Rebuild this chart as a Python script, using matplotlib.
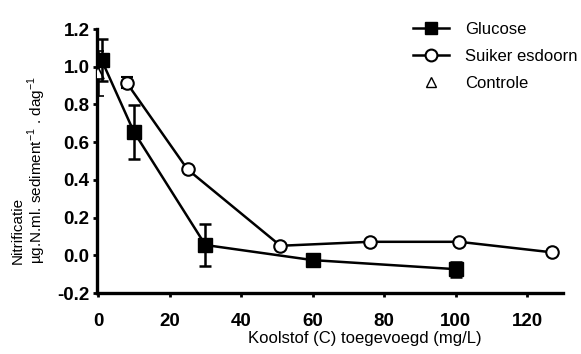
import matplotlib
matplotlib.use("Agg")
import matplotlib.pyplot as plt
from matplotlib.lines import Line2D

plt.rcParams['font.family'] = ['Liberation Sans', 'DejaVu Sans']

# Glucose
glu_x = [1, 10, 30, 60, 100]
glu_y = [1.035, 0.655, 0.055, -0.025, -0.073]
glu_err = [0.11, 0.143, 0.11, 0.0, 0.04]

# Suiker esdoorn
sui_x = [8, 25, 51, 76, 101, 127]
sui_y = [0.915, 0.456, 0.051, 0.072, 0.072, 0.016]
sui_err = [0.03, 0.0, 0.0, 0.0, 0.0, 0.0]

# Controle
con_x = [0]
con_y = [0.965]
con_err = [0.12]

xticks = [0, 20, 40, 60, 80, 100, 120]
yticks = [-0.2, 0.0, 0.2, 0.4, 0.6, 0.8, 1.0, 1.2]

fig = plt.figure(figsize=(5.81, 3.54), dpi=100)
ax = fig.add_axes([0.167, 0.172, 0.802, 0.746])

ax.errorbar(con_x, con_y, yerr=con_err, fmt='^', color='black', mfc='white',
            mec='black', ms=9, mew=1.2, capsize=4, elinewidth=1.8, capthick=1.8,
            zorder=3)
ax.errorbar(sui_x, sui_y, yerr=sui_err, fmt='-o', color='black', mfc='white',
            mec='black', ms=9, mew=1.5, lw=1.8, capsize=4, elinewidth=1.8,
            capthick=1.8, zorder=4)
ax.errorbar(glu_x, glu_y, yerr=glu_err, fmt='-s', color='black', ms=9.5, lw=1.8,
            capsize=4, elinewidth=1.8, capthick=1.8, zorder=5)

ax.set_xlim(-0.3, 130)
ax.set_ylim(-0.2, 1.2)
ax.set_xticks(xticks)
ax.set_yticks(yticks)
ax.set_yticklabels(['%.1f' % v for v in yticks])
ax.tick_params(direction='out', width=2, length=3, labelsize=13.5)
ax.tick_params(axis='x', pad=11)
ax.tick_params(axis='y', pad=2.5)
for lab in ax.get_xticklabels() + ax.get_yticklabels():
    lab.set_fontweight('bold')
for s in ['top', 'right']:
    ax.spines[s].set_visible(False)
for s in ['left', 'bottom']:
    ax.spines[s].set_linewidth(2.4)

ax.set_xlabel('Koolstof (C) toegevoegd (mg/L)', fontsize=12)
ax.xaxis.set_label_coords(0.575, -0.145)
ax.set_ylabel('Nitrificatie\nµg.N.ml. sediment$^{\\mathregular{-1}}$ . dag$^{\\mathregular{-1}}$',
              fontsize=11, linespacing=1.05, multialignment='left')
ax.yaxis.set_label_coords(-0.105, 0.466)

handles = [
    Line2D([], [], color='black', marker='s', ms=8.5, lw=1.8),
    Line2D([], [], color='black', marker='o', mfc='white', ms=8.5, mew=1.5, lw=1.8),
    Line2D([], [], color='black', marker='^', mfc='white', ms=7, mew=1.0, lw=0),
]
labels = ['Glucose', 'Suiker esdoorn', 'Controle']
fig.legend(handles, labels, loc='upper left', bbox_to_anchor=(0.699, 0.958),
           bbox_transform=fig.transFigure, frameon=False, fontsize=12,
           handlelength=2.15, handletextpad=1.0, labelspacing=0.72,
           borderaxespad=0)

fig.savefig('out.png', dpi=100)
